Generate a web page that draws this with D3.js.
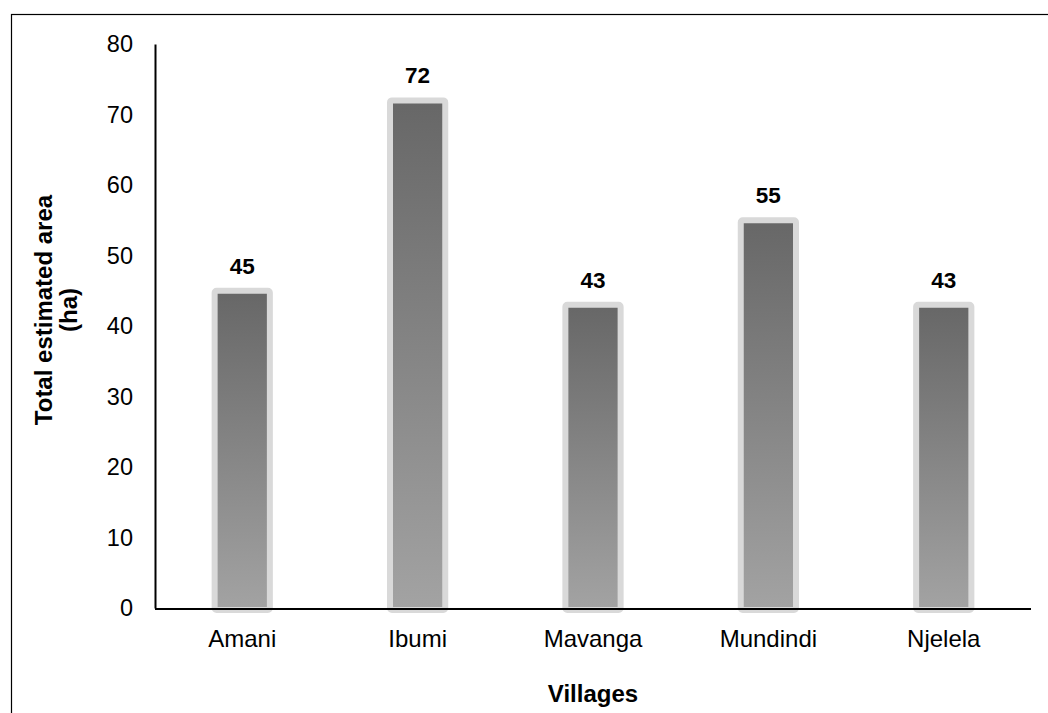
<!DOCTYPE html>
<html>
<head>
<meta charset="utf-8">
<script src="https://cdn.jsdelivr.net/npm/d3@7"></script>
<style>
  html, body { margin: 0; padding: 0; background: #fff; }
  svg { display: block; font-family: "Liberation Sans", Arial, sans-serif; }
</style>
</head>
<body>
<svg id="chart" width="1048" height="713"></svg>
<script>
// Estimated area per village (ha)
const villages = ["Amani", "Ibumi", "Mavanga", "Mundindi", "Njelela"];
const areas = [45, 72, 43, 55, 43];
const yTicks = [0, 10, 20, 30, 40, 50, 60, 70, 80];

const svg = d3.select("#chart");
const W = 1048, H = 713;
const margin = { left: 155, right: 17, top: 44, bottom: 105 };
const plotRight = W - margin.right;
const plotBottom = H - margin.bottom;
const FONT = "'Liberation Sans', Arial, sans-serif";

// Outer frame
svg.append("rect")
  .attr("x", 11.5).attr("y", 14.5)
  .attr("width", 1040).attr("height", 720)
  .attr("fill", "none").attr("stroke", "#000").attr("stroke-width", 1.2);

const x = d3.scaleBand().domain(villages).range([margin.left, plotRight]).paddingInner(0.685).paddingOuter(0.34);
const y = d3.scaleLinear().domain([0, 80]).range([plotBottom, margin.top]);

// Vertical gradient for the bars
const defs = svg.append("defs");
const grad = defs.append("linearGradient").attr("id", "barGrad")
  .attr("x1", 0).attr("y1", 0).attr("x2", 0).attr("y2", 1);
grad.append("stop").attr("offset", "0%").attr("stop-color", "#676767");
grad.append("stop").attr("offset", "100%").attr("stop-color", "#a3a3a3");

// Bars
svg.append("g").selectAll("rect")
  .data(villages)
  .join("rect")
  .attr("x", d => x(d))
  .attr("width", x.bandwidth())
  .attr("y", (d, i) => y(areas[i]))
  .attr("height", (d, i) => y(0) - y(areas[i]) + 2)
  .attr("fill", "url(#barGrad)")
  .attr("stroke", "#d9d9d9")
  .attr("stroke-width", 6)
  .attr("rx", 2);

// Value labels
svg.append("g").selectAll("text")
  .data(villages)
  .join("text")
  .attr("x", d => x(d) + x.bandwidth() / 2)
  .attr("y", (d, i) => y(areas[i]) - 17)
  .attr("text-anchor", "middle")
  .attr("font-size", 22.5)
  .attr("font-weight", "bold")
  .attr("fill", "#000")
  .text((d, i) => areas[i]);

// Y axis
const yAxis = svg.append("g")
  .attr("transform", `translate(${margin.left},0)`)
  .call(d3.axisLeft(y).tickValues(yTicks).tickSize(0).tickPadding(22));
yAxis.select(".domain").attr("stroke", "#000").attr("stroke-width", 2);
yAxis.selectAll("text").attr("font-size", 23.5).attr("fill", "#000")
  .attr("font-family", FONT);

// X axis
const xAxis = svg.append("g")
  .attr("transform", `translate(0,${plotBottom + 1})`)
  .call(d3.axisBottom(x).tickSize(0).tickPadding(21));
xAxis.select(".domain").attr("stroke", "#000").attr("stroke-width", 2)
  .attr("d", `M${margin.left},0H${plotRight}`);
xAxis.selectAll("text").attr("font-size", 24).attr("fill", "#000")
  .attr("font-family", FONT);

// Axis titles
svg.append("text")
  .attr("x", (margin.left + plotRight) / 2)
  .attr("y", 702)
  .attr("text-anchor", "middle")
  .attr("font-size", 24).attr("font-weight", "bold")
  .text("Villages");

const yTitle = svg.append("text")
  .attr("transform", "translate(52,310) rotate(-90)")
  .attr("text-anchor", "middle")
  .attr("font-size", 24).attr("font-weight", "bold");
yTitle.append("tspan").attr("x", 0).attr("dy", 0).text("Total estimated area");
yTitle.append("tspan").attr("x", 0).attr("dy", 25).text("(ha)");
</script>
</body>
</html>
